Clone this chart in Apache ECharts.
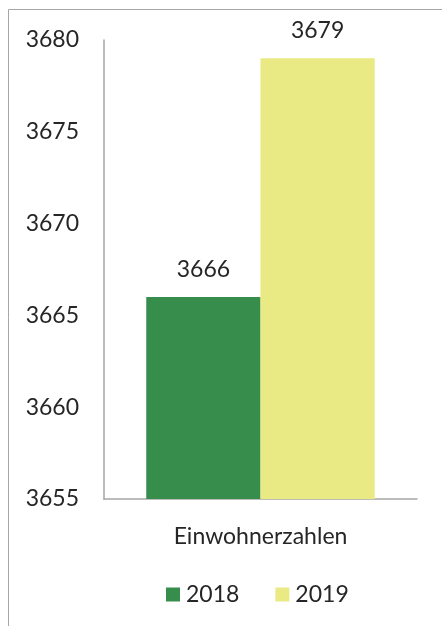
<!DOCTYPE html>
<html>
<head>
<meta charset="utf-8">
<script src="https://cdn.jsdelivr.net/npm/echarts@6/dist/echarts.min.js"></script>
<style>
  html, body { margin: 0; padding: 0; background: #fff; }
  #chart { width: 442px; height: 626px; }
</style>
</head>
<body>
<div id="chart"></div>
<script>
// Daten
var categories = ['Einwohnerzahlen'];
var seriesNames = ['2018', '2019'];
var values2018 = [3666];
var values2019 = [3679];
var yTicks = { min: 3655, max: 3680, step: 5 };

var textColor = '#262626';
var fontFam = 'Lato, "Open Sans", sans-serif';
var fs = 23;

var myChart = echarts.init(document.getElementById('chart'));
var option = {
    animation: false,
    textStyle: { fontFamily: fontFam },
    // Rahmen links/oben
    graphic: [{
        type: 'polyline',
        shape: { points: [[8.5, 626], [8.5, 9.5], [442, 9.5]] },
        style: { stroke: '#a6a6a6', lineWidth: 1, fill: null }
    }],
    grid: { left: 104, right: 25, top: 40, bottom: 127 },
    legend: {
        data: seriesNames,
        bottom: 15,
        left: 161,
        itemWidth: 14,
        itemHeight: 14,
        itemGap: 36,
        icon: 'rect',
        textStyle: { fontSize: fs, color: textColor, fontFamily: fontFam, padding: [0, 0, 0, 1] }
    },
    xAxis: {
        type: 'category',
        data: categories,
        axisLine: { lineStyle: { color: '#a6a6a6', width: 1.5 } },
        axisTick: { show: false },
        axisLabel: { fontSize: fs, color: textColor, margin: 26, fontFamily: fontFam }
    },
    yAxis: {
        type: 'value',
        min: yTicks.min,
        max: yTicks.max,
        interval: yTicks.step,
        axisLine: { show: true, lineStyle: { color: '#a6a6a6', width: 1.5 } },
        axisTick: { show: false },
        splitLine: { show: false },
        axisLabel: {
            fontSize: fs, color: textColor, margin: 25, fontFamily: fontFam,
            formatter: function (v) { return String(v); }
        }
    },
    series: [
        {
            name: seriesNames[0],
            type: 'bar',
            data: values2018,
            barGap: '0%',
            barCategoryGap: '27%',
            itemStyle: { color: '#378d4b' },
            label: { show: true, position: 'top', distance: 16, fontSize: fs, color: textColor, fontFamily: fontFam }
        },
        {
            name: seriesNames[1],
            type: 'bar',
            data: values2019,
            itemStyle: { color: '#eaea84' },
            label: { show: true, position: 'top', distance: 16, fontSize: fs, color: textColor, fontFamily: fontFam }
        }
    ]
};
myChart.setOption(option);
</script>
</body>
</html>
